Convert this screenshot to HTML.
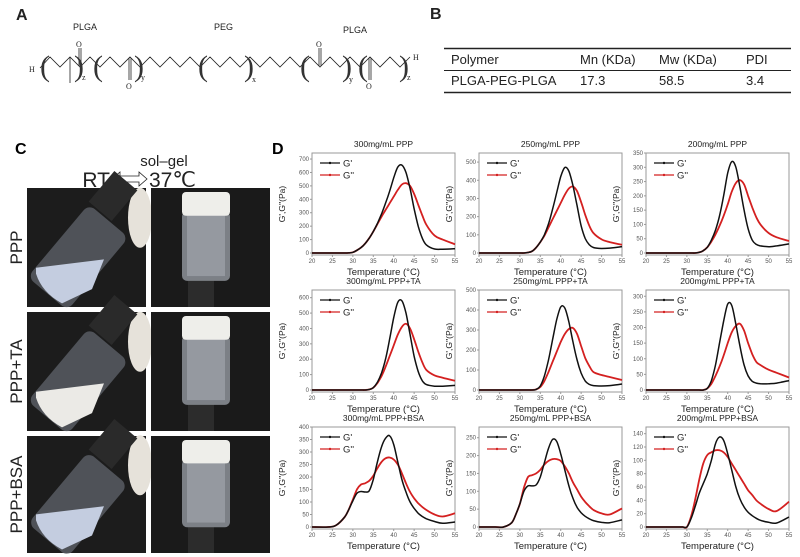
<!DOCTYPE html>
<html><head><meta charset="utf-8"><style>
body{margin:0;background:#fff;}
svg{display:block;font-family:"Liberation Sans",Arial,sans-serif;}
</style></head><body>
<svg id="fig" width="800" height="557" viewBox="0 0 800 557">
<!-- Panel A -->
<g font-family="Liberation Serif,serif" fill="#222">
<text x="16" y="20" font-family="Liberation Sans" font-weight="bold" font-size="16">A</text>
<text x="73" y="30" font-family="Liberation Sans" font-size="9">PLGA</text>
<text x="214" y="30" font-family="Liberation Sans" font-size="9">PEG</text>
<text x="343" y="33" font-family="Liberation Sans" font-size="9">PLGA</text>
<g stroke="#222" fill="none" stroke-width="0.8">
<polyline points="40,68 50,57 60,67 70,57 80,67 90,57 100,67 110,57 120,67 130,57 140,67 150,57 160,67 170,57 180,67 190,57 200,67 210,57 220,67 230,57 240,67 250,57 260,67 270,57 280,67 290,57 300,67 310,57 320,67 330,57 340,67 350,57 360,67 370,57 380,67 390,57 400,67 410,57"/>
<line x1="70" y1="57" x2="70" y2="83"/>
<line x1="79" y1="48" x2="79" y2="66"/><line x1="81" y1="48" x2="81" y2="66"/>
<line x1="129" y1="58" x2="129" y2="80"/><line x1="131" y1="58" x2="131" y2="80"/>
<line x1="319" y1="48" x2="319" y2="66"/><line x1="321" y1="48" x2="321" y2="66"/>
<line x1="369" y1="58" x2="369" y2="80"/><line x1="371" y1="58" x2="371" y2="80"/>
</g>
<g font-size="30" font-weight="200" fill="#333">
<text x="40" y="76">(</text><text x="74" y="76">)</text><text x="93" y="76">(</text><text x="134" y="76">)</text>
<text x="198" y="76">(</text><text x="244" y="76">)</text><text x="300" y="76">(</text><text x="342" y="76">)</text>
<text x="358" y="76">(</text><text x="399" y="76">)</text>
</g>
<g font-size="8">
<text x="29" y="72">H</text><text x="82" y="80">z</text><text x="141" y="80">y</text><text x="252" y="82">x</text><text x="349" y="82">y</text><text x="407" y="80">z</text><text x="413" y="60">H</text>
<text x="76" y="47">O</text><text x="126" y="89">O</text><text x="316" y="47">O</text><text x="366" y="89">O</text>
</g>
</g>
<!-- Panel B -->
<g font-size="13" fill="#222">
<text x="430" y="19" font-weight="bold" font-size="16">B</text>
<line x1="444" y1="48.5" x2="791" y2="48.5" stroke="#222" stroke-width="1.5"/>
<line x1="444" y1="70.5" x2="791" y2="70.5" stroke="#222" stroke-width="1"/>
<line x1="444" y1="92.5" x2="791" y2="92.5" stroke="#222" stroke-width="1.5"/>
<text x="451" y="64">Polymer</text>
<text x="580" y="64">Mn (KDa)</text>
<text x="659" y="64">Mw (KDa)</text>
<text x="746" y="64">PDI</text>
<text x="451" y="85">PLGA-PEG-PLGA</text>
<text x="580" y="85">17.3</text>
<text x="659" y="85">58.5</text>
<text x="746" y="85">3.4</text>
</g>
<!-- Panel C -->
<g>
<text x="15" y="154" font-weight="bold" font-size="16">C</text>
<text x="164" y="166" font-size="15" text-anchor="middle" fill="#222">sol–gel</text>
<text x="110" y="187" font-size="21" fill="#222" text-anchor="end">RT</text>
<path d="M112,179 l8,-7 v4 h19 v-4 l8,7 l-8,7 v-4 h-19 v4 z" fill="#fff" stroke="#222" stroke-width="0.8"/>
<text x="149" y="187" font-size="21" fill="#222">37℃</text>
<g id="photos"></g>
</g>
<!-- Panel D -->
<text x="272" y="154" font-weight="bold" font-size="16">D</text>
<g id="charts"></g>
</svg>
<script>
const temps = [20,24,26,28,29,30,31,32,33,34,35,36,37,38,39,40,41,42,43,44,45,46,47,48,50,52,55];
const titles = ["300mg/mL PPP","250mg/mL PPP","200mg/mL PPP","300mg/mL PPP+TA","250mg/mL PPP+TA","200mg/mL PPP+TA","300mg/mL PPP+BSA","250mg/mL PPP+BSA","200mg/mL PPP+BSA"];
const yMaxes = [745,550,350,650,500,320,400,280,150];
const ySteps = [100,100,50,100,100,50,50,50,20];
const xTicks = [20,25,30,35,40,45,50,55];
const gp1 = [0,0,0,0,1,5,20,40,70,110,160,220,290,370,460,560,640,655,600,480,330,200,110,60,30,28,32];
const gpp1 = [0,0,0,0,1,5,20,40,70,110,160,215,270,320,370,420,470,510,520,500,440,360,280,210,130,100,65];
const gp2 = [0,0,0,0,0,0,0,3,10,30,60,100,160,240,330,420,470,450,370,260,150,80,45,30,25,27,35];
const gpp2 = [0,0,0,0,0,0,0,3,10,30,60,95,140,185,230,275,320,355,365,340,280,210,150,110,75,60,45];
const gp3 = [0,0,0,0,0,0,0,0,2,8,20,45,80,130,200,280,320,300,230,150,85,45,30,25,22,25,32];
const gpp3 = [0,0,0,0,0,0,0,0,2,8,20,40,65,95,130,170,215,245,255,240,200,160,125,100,70,55,42];
const gp4 = [0,0,0,0,0,0,0,0,0,3,15,50,110,200,330,470,570,580,500,360,220,120,60,35,25,25,30];
const gpp4 = [0,0,0,0,0,0,0,0,0,3,15,45,90,150,220,290,360,410,430,400,330,250,180,130,95,80,60];
const gp5 = [0,0,0,0,0,0,0,0,0,3,20,70,150,250,350,415,410,340,240,150,85,45,28,22,20,22,30];
const gpp5 = [0,0,0,0,0,0,0,0,0,3,15,45,90,140,190,240,280,305,310,280,220,160,120,90,75,65,50];
const gp6 = [0,0,0,0,0,0,0,0,0,0,5,30,80,150,220,275,270,210,140,80,45,28,22,20,20,22,30];
const gpp6 = [0,0,0,0,0,0,0,0,0,0,5,20,45,75,110,150,185,205,212,190,150,115,90,80,65,55,40];
const gp7 = [0,0,8,40,70,105,135,142,140,145,190,260,320,355,365,330,260,190,140,100,75,55,42,33,22,15,20];
const gpp7 = [0,0,8,40,70,110,150,170,175,185,205,235,260,275,278,270,250,215,175,140,115,95,80,68,50,42,55];
const gp8 = [0,0,0,12,35,65,100,115,115,118,140,180,220,245,240,205,160,115,80,55,40,30,23,18,13,12,20];
const gpp8 = [0,0,0,12,35,65,110,140,145,150,160,175,185,190,190,185,170,150,125,105,85,70,58,48,38,35,52];
const gp9 = [0,0,0,0,0,0,12,30,50,65,80,100,125,135,130,110,85,60,42,30,22,17,13,10,7,6,15];
const gpp9 = [0,0,0,0,0,0,15,40,70,95,108,112,115,115,112,105,95,85,75,65,55,48,40,35,27,24,38];
const gPrime = [gp1,gp2,gp3,gp4,gp5,gp6,gp7,gp8,gp9];
const gDouble = [gpp1,gpp2,gpp3,gpp4,gpp5,gpp6,gpp7,gpp8,gpp9];

const NS="http://www.w3.org/2000/svg";
function mk(tag, attrs, parent){const e=document.createElementNS(NS,tag);for(const k in attrs)e.setAttribute(k,attrs[k]);if(parent)parent.appendChild(e);return e;}
function smooth(pts){let d="M"+pts[0][0]+","+pts[0][1];for(let i=0;i<pts.length-1;i++){const p0=pts[Math.max(0,i-1)],p1=pts[i],p2=pts[i+1],p3=pts[Math.min(pts.length-1,i+2)];const c1=[p1[0]+(p2[0]-p0[0])/6,p1[1]+(p2[1]-p0[1])/6];const c2=[p2[0]-(p3[0]-p1[0])/6,p2[1]-(p3[1]-p1[1])/6];d+=" C"+c1[0].toFixed(1)+","+c1[1].toFixed(1)+" "+c2[0].toFixed(1)+","+c2[1].toFixed(1)+" "+p2[0].toFixed(1)+","+p2[1].toFixed(1);}return d;}

const charts=document.getElementById('charts');
for(let c=0;c<9;c++){
  const col=c%3,row=Math.floor(c/3);
  const L=312+col*167,R=L+143,T=153+row*137,B=T+102;
  const xs=t=>L+(t-20)/35*(R-L);
  const ys=v=>B-2-v/yMaxes[c]*(B-2-T);
  const g=mk('g',{},charts);
  
  
  const ti=mk('text',{x:(L+R)/2,y:T-6,'font-size':8.5,'text-anchor':'middle',fill:'#222'},g);ti.textContent=titles[c];
  
  
  const fr=mk('rect',{x:L,y:T,width:R-L,height:B-T,fill:'none',stroke:'#999','stroke-width':1},g);
  
  
  xTicks.forEach(t=>{mk('line',{x1:xs(t),x2:xs(t),y1:B,y2:B+2,stroke:'#999'},g);const tx=mk('text',{x:xs(t),y:B+8,'font-size':6,'text-anchor':'middle',fill:'#555'},g);tx.textContent=t;
    
    });
  for(let v=0;v<=yMaxes[c];v+=ySteps[c]){mk('line',{x1:L-2,x2:L,y1:ys(v),y2:ys(v),stroke:'#999'},g);const ty=mk('text',{x:L-3,y:ys(v)+2,'font-size':6,'text-anchor':'end',fill:'#555'},g);ty.textContent=v;
    
    }
  const xl=mk('text',{x:(L+R)/2,y:B+20,'font-size':9.5,'text-anchor':'middle',fill:'#222'},g);xl.textContent="Temperature (°C)";
  
  
  const yx=L-27,yy=(T+B)/2;
  const yl=mk('text',{x:yx,y:yy,'font-size':8.5,'text-anchor':'middle',fill:'#222',transform:`rotate(-90 ${yx} ${yy})`},g);yl.textContent="G',G''(Pa)";
  
  
  [[gDouble[c],'#d42020',"G''",1],[gPrime[c],'#111',"G'",0]].forEach(([arr,colr,lab,k])=>{
    const pts=temps.map((t,i)=>[xs(t),ys(arr[i])]);
    const p=mk('path',{d:smooth(pts),fill:'none',stroke:colr,'stroke-width':k?1.8:1.5},g);
    
    
    const ly=T+10+k*12;
    const le=mk('g',{},g);
    
    
    mk('line',{x1:L+8,x2:L+28,y1:ly,y2:ly,stroke:colr,'stroke-width':1.2},le);
    mk('circle',{cx:L+18,cy:ly,r:1.2,fill:colr},le);
    const lt=mk('text',{x:L+31,y:ly+3.5,'font-size':9.5,fill:'#222'},le);lt.textContent=lab;
  });
}

const photos=document.getElementById('photos');
const rowsY=[[188,307],[312,431],[436,553]];
const rowLabels=["PPP","PPP+TA","PPP+BSA"];
rowsY.forEach(([y0,y1],r)=>{
  const cy=(y0+y1)/2;
  const lb=mk('text',{x:22,y:cy,'font-size':17,'text-anchor':'middle',fill:'#222',transform:`rotate(-90 22 ${cy})`},photos);lb.textContent=rowLabels[r];
  
  
  const h=y1-y0;
  const lp=mk('g',{},photos);
  
  
  mk('rect',{x:27,y:y0,width:119,height:h,fill:'#1c1c1c'},lp);
  mk('ellipse',{cx:140,cy:y0+h*0.25,rx:12,ry:30,fill:'#e6e2da'},lp);
  mk('rect',{x:98,y:y0-12,width:30,height:40,fill:'#2a2a2a',transform:`rotate(40 113 ${y0+8})`},lp);
  mk('rect',{x:55,y:y0+22,width:52,height:h*0.8,fill:'#5c6068',opacity:0.8,rx:8,transform:`rotate(40 80 ${y0+h*0.55})`},lp);
  const fc=r==1?'#ebeae6':'#c4cde0';
  mk('path',{d:`M36,${y0+h*0.67} L104,${y0+h*0.6} L92,${y0+h*0.85} L62,${y0+h*0.97} Q42,${y0+h*0.88} 36,${y0+h*0.72} Z`,fill:fc},lp);
  const rp=mk('g',{},photos);
  
  
  mk('rect',{x:151,y:y0,width:119,height:h,fill:'#1a1a1a'},rp);
  mk('rect',{x:188,y:y0+h*0.74,width:26,height:h*0.26,fill:'#2c2c2c'},rp);
  mk('rect',{x:182,y:y0+h*0.2,width:48,height:h*0.58,fill:'#7c8086',rx:5},rp);
  mk('rect',{x:187,y:y0+h*0.22,width:38,height:h*0.52,fill:'#a6aab2',opacity:0.6},rp);
  mk('rect',{x:182,y:y0+4,width:48,height:h*0.2,fill:'#eeeeea',rx:4},rp);
});
</script>
</body></html>
